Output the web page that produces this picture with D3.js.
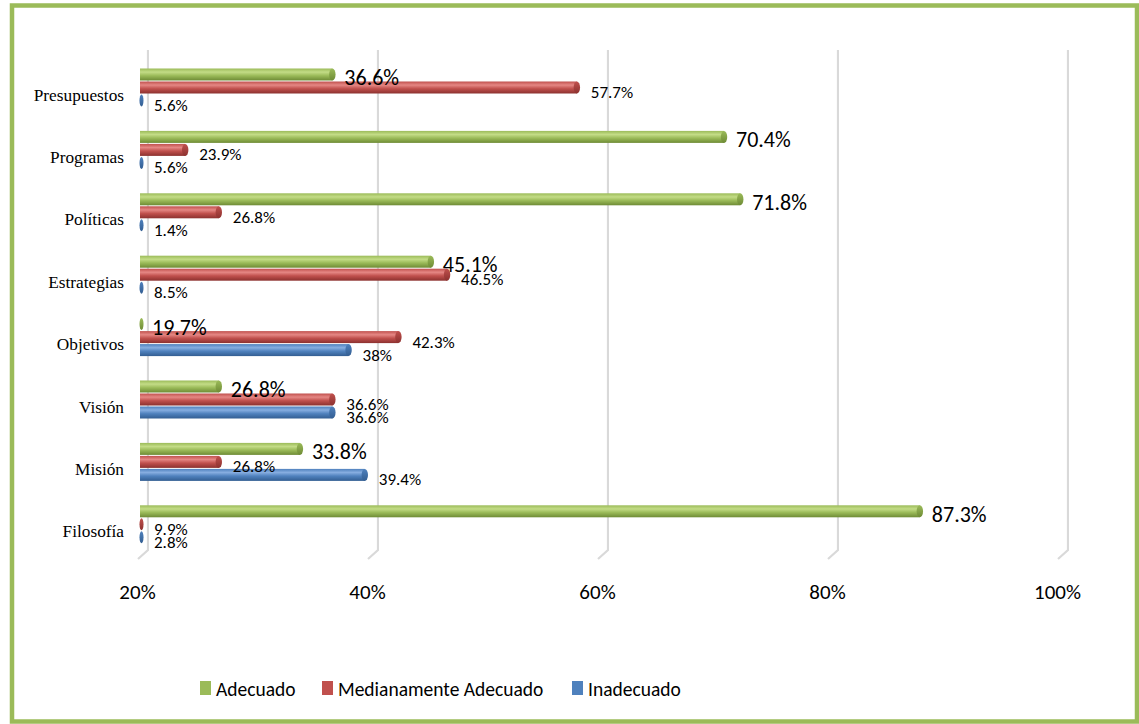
<!DOCTYPE html>
<html>
<head>
<meta charset="utf-8">
<script src="https://cdn.jsdelivr.net/npm/d3@7"></script>
<style>
  html, body { margin: 0; padding: 0; background: #fff; }
  svg { display: block; }
</style>
</head>
<body>
<svg id="chart" width="1139" height="724"></svg>
<script>
// Categories, top to bottom
const categories = ["Presupuestos", "Programas", "Políticas", "Estrategias", "Objetivos", "Visión", "Misión", "Filosofía"];
// Series names (legend order)
const seriesNames = ["Adecuado", "Medianamente Adecuado", "Inadecuado"];
// Percent values per category, same order as categories
const adecuado      = [36.6, 70.4, 71.8, 45.1, 19.7, 26.8, 33.8, 87.3];
const medianamente  = [57.7, 23.9, 26.8, 46.5, 42.3, 36.6, 26.8, 9.9];
const inadecuado    = [5.6, 5.6, 1.4, 8.5, 38, 36.6, 39.4, 2.8];
// Axis ticks
const tickValues = [20, 40, 60, 80, 100];
const axisMin = 20, axisMax = 100;

const colors = {
  "Adecuado": { base: "#9bbb59", light: "#c3dc86", dark: "#6e8b35" },
  "Medianamente Adecuado": { base: "#c0504d", light: "#e58784", dark: "#8c312f" },
  "Inadecuado": { base: "#4f81bd", light: "#86ade0", dark: "#335e92" }
};

const seriesData = [adecuado, medianamente, inadecuado];

const svg = d3.select("#chart");
const sansFont = "Carlito, Lato, 'Open Sans', sans-serif";
const serifFont = "'Liberation Serif', 'Times New Roman', Times, Tinos, 'DejaVu Serif', serif";

// Outer frame
svg.append("rect")
  .attr("x", 12).attr("y", 5.5)
  .attr("width", 1125).attr("height", 716)
  .attr("fill", "#fff")
  .attr("stroke", "#9bbb59")
  .attr("stroke-width", 4.5);

// Scales: front plane for bars, back wall for gridlines, floor edge for tick labels
const x = d3.scaleLinear().domain([axisMin, axisMax]).range([140, 1067]);
const xBack = d3.scaleLinear().domain([axisMin, axisMax]).range([148, 1068]);
const xFloor = d3.scaleLinear().domain([axisMin, axisMax]).range([137, 1057]);

const y = d3.scaleBand().domain(categories).range([52.4, 559.4])
  .paddingInner(0.375).paddingOuter(0.25);
const ySeries = d3.scaleBand().domain(seriesNames).range([0, y.bandwidth()]);

// Gradients for cylinder bars
const defs = svg.append("defs");
seriesNames.forEach((s, i) => {
  const g = defs.append("linearGradient")
    .attr("id", "grad" + i).attr("x1", 0).attr("y1", 0).attr("x2", 0).attr("y2", 1);
  g.append("stop").attr("offset", "0%").attr("stop-color", colors[s].base);
  g.append("stop").attr("offset", "30%").attr("stop-color", colors[s].light);
  g.append("stop").attr("offset", "60%").attr("stop-color", colors[s].base);
  g.append("stop").attr("offset", "100%").attr("stop-color", colors[s].dark);
  const gc = defs.append("linearGradient")
    .attr("id", "cap" + i).attr("x1", 0).attr("y1", 0).attr("x2", 0).attr("y2", 1);
  gc.append("stop").attr("offset", "0%").attr("stop-color", colors[s].base);
  gc.append("stop").attr("offset", "100%").attr("stop-color", colors[s].dark);
});
const shadow = defs.append("filter").attr("id", "soft").attr("x", "-5%").attr("y", "-50%")
  .attr("width", "110%").attr("height", "200%");
shadow.append("feGaussianBlur").attr("stdDeviation", 0.6);

// Gridlines (back wall + floor slant)
const grid = svg.append("g");
tickValues.forEach(t => {
  grid.append("path")
    .attr("d", `M${xBack(t)},50 V550 L${xFloor(t) + 1},559`)
    .attr("fill", "none")
    .attr("stroke", "#d9d9d9")
    .attr("stroke-width", 2.2)
    .attr("filter", "url(#soft)");
});

// Tick labels along the floor edge
const axis = d3.axisBottom(xFloor).tickValues(tickValues).tickFormat(d => d + "%").tickSize(0).tickPadding(0);
const axisG = svg.append("g").attr("transform", "translate(0,584)").call(axis);
axisG.select(".domain").remove();
axisG.selectAll("text")
  .attr("dy", "0.71em")
  .style("font-family", sansFont)
  .style("font-size", "21px")
  .style("fill", "#000");

// Category labels
svg.append("g").selectAll("text")
  .data(categories)
  .join("text")
  .attr("x", 124)
  .attr("y", d => y(d) + 27)
  .attr("text-anchor", "end")
  .attr("dominant-baseline", "central")
  .style("font-family", serifFont)
  .style("font-size", "17.3px")
  .text(d => d);

// Bars
const barsG = svg.append("g");
seriesNames.forEach((s, si) => {
  const vals = seriesData[si];
  const g = barsG.append("g");
  categories.forEach((c, ci) => {
    const v = vals[ci];
    const top = y(c) + ySeries(s);
    const h = ySeries.bandwidth();
    const x0 = x(axisMin);
    const x1 = x(Math.max(v, axisMin));
    if (x1 > x0) {
      g.append("rect")
        .attr("x", x0).attr("y", top + 0.5)
        .attr("width", x1 - x0).attr("height", h - 1)
        .attr("fill", `url(#grad${si})`);
    }
    // round end cap (thin sliver when the value sits below the axis minimum)
    g.append("ellipse")
      .attr("cx", x1 + (x1 > x0 ? 0 : 1.5)).attr("cy", top + h / 2)
      .attr("rx", x1 > x0 ? 3.2 : 2).attr("ry", h / 2 - 0.5)
      .attr("fill", `url(#cap${si})`);
  });
});

// Data labels
const labelsG = svg.append("g");
seriesNames.forEach((s, si) => {
  const vals = seriesData[si];
  const big = si === 0;
  labelsG.append("g").selectAll("text")
    .data(vals.map((v, ci) => ({ v, c: categories[ci] })))
    .join("text")
    .attr("x", d => x(Math.max(d.v, axisMin)) + (big ? 12 : 14))
    .attr("y", d => y(d.c) + ySeries(s) + ySeries.bandwidth() / 2 + (big ? 3 : 5))
    .attr("dominant-baseline", "central")
    .style("font-family", sansFont)
    .style("font-size", big ? "22px" : "17px")
    .style("fill", "#000")
    .text(d => d.v + "%");
});

// Legend
const legendItems = [
  { name: "Adecuado", x: 200 },
  { name: "Medianamente Adecuado", x: 322 },
  { name: "Inadecuado", x: 572 }
];
const lg = svg.append("g");
legendItems.forEach(it => {
  lg.append("rect")
    .attr("x", it.x).attr("y", 681)
    .attr("width", 11).attr("height", 14)
    .attr("fill", colors[it.name].base);
  lg.append("text")
    .attr("x", it.x + 16).attr("y", 689)
    .attr("dominant-baseline", "central")
    .style("font-family", sansFont)
    .style("font-size", "19.5px")
    .text(it.name);
});
</script>
</body>
</html>
